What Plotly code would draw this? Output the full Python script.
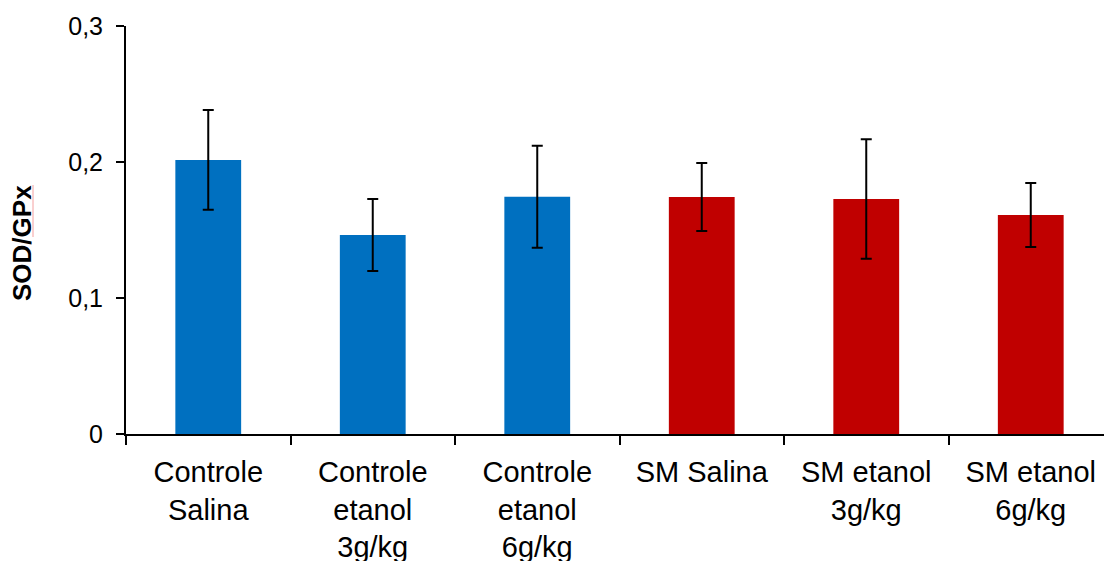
import plotly.graph_objects as go

# Groups and measured SOD/GPx ratio (mean ± error)
categories = ["Controle<br>Salina", "Controle<br>etanol<br>3g/kg", "Controle<br>etanol<br>6g/kg",
              "SM Salina", "SM etanol<br>3g/kg", "SM etanol<br>6g/kg"]
means = [0.2015, 0.1463, 0.1745, 0.1743, 0.1728, 0.161]
errors = [0.0367, 0.0265, 0.0375, 0.025, 0.044, 0.0235]
bar_colors = ["#0070C0", "#0070C0", "#0070C0", "#C00000", "#C00000", "#C00000"]

y_tickvals = [0, 0.1, 0.2, 0.3]
y_ticktext = ["0", "0,1", "0,2", "0,3"]

W, H = 1104, 561
L, T, B = 126, 26, 127
cat_px = 164.5
plot_w = W - L
plot_h = H - T - B

fig = go.Figure()
fig.add_trace(go.Bar(
    x=categories,
    y=means,
    width=0.4,
    marker=dict(color=bar_colors, line=dict(width=0)),
    error_y=dict(type="data", array=errors, visible=True,
                 color="black", thickness=2, width=5.5),
    showlegend=False,
))

font_family = "Liberation Sans, Arial, sans-serif"

fig.update_layout(
    width=W, height=H,
    margin=dict(l=L, r=0, t=T, b=B, pad=0),
    plot_bgcolor="white", paper_bgcolor="white",
    font=dict(family=font_family, color="black"),
    bargap=0.6,
    xaxis=dict(
        type="category",
        range=[-0.5, -0.5 + plot_w / cat_px],
        showline=True, linecolor="black", linewidth=2,
        ticks="outside", ticklen=9, tickwidth=2, tickcolor="black",
        tickson="boundaries",
        tickfont=dict(size=29, family=font_family, color="black"),
        ticklabelstandoff=11,
        automargin=False,
        showgrid=False, zeroline=False,
    ),
    yaxis=dict(
        range=[0, 0.3],
        tickvals=y_tickvals, ticktext=y_ticktext,
        showline=True, linecolor="black", linewidth=2,
        ticks="outside", ticklen=8, tickwidth=2, tickcolor="black",
        tickfont=dict(size=25, family=font_family, color="black"),
        ticklabelstandoff=8,
        automargin=False,
        showgrid=False, zeroline=False,
    ),
    annotations=[dict(
        text="<b>SOD/GPx</b>", textangle=-90,
        xref="paper", yref="paper",
        x=(22 - L) / plot_w, y=(434 - 243) / plot_h,
        xanchor="center", yanchor="middle", showarrow=False,
        font=dict(size=26, family=font_family, color="black"),
    )],
    shapes=[dict(
        type="line", xref="paper", yref="paper",
        x0=(33 - L) / plot_w, x1=(33 - L) / plot_w,
        y0=(434 - 185) / plot_h, y1=(434 - 237) / plot_h,
        line=dict(color="#f4a0a0", width=1),
    )],
)

fig.write_html("out.html")
